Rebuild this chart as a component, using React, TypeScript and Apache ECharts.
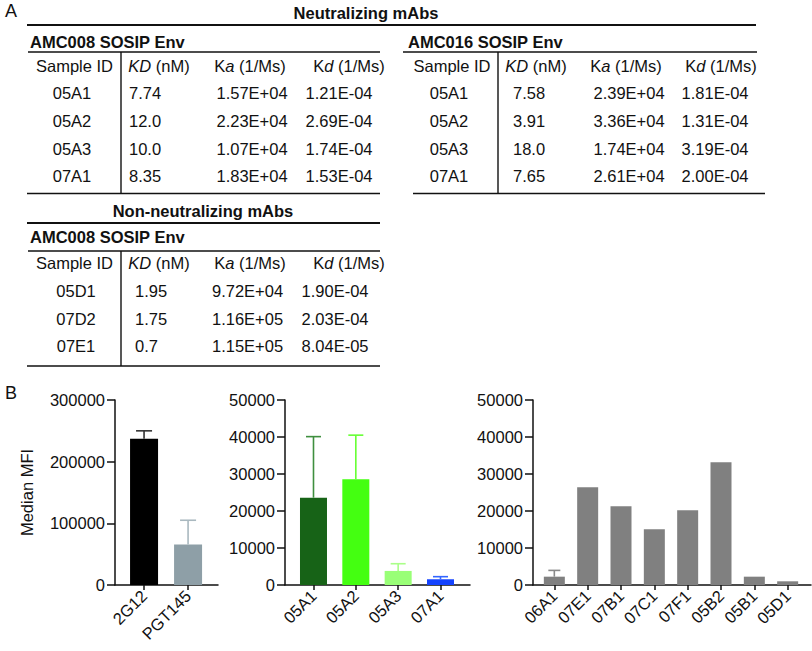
import React, { useEffect, useRef } from "react";
import * as echarts from "echarts";

const FONT = "'Liberation Sans', Arial, Helvetica, sans-serif";
const FS = 16.5;

// ---------- Table data (panel A) ----------
const tableHeaders = ["Sample ID", "{i|KD} (nM)", "K{i|a} (1/Ms)", "K{i|d} (1/Ms)"];

const amc008Samples = ["05A1", "05A2", "05A3", "07A1"];
const amc008KD = ["7.74", "12.0", "10.0", "8.35"];
const amc008Ka = ["1.57E+04", "2.23E+04", "1.07E+04", "1.83E+04"];
const amc008Kd = ["1.21E-04", "2.69E-04", "1.74E-04", "1.53E-04"];

const amc016Samples = ["05A1", "05A2", "05A3", "07A1"];
const amc016KD = ["7.58", "3.91", "18.0", "7.65"];
const amc016Ka = ["2.39E+04", "3.36E+04", "1.74E+04", "2.61E+04"];
const amc016Kd = ["1.81E-04", "1.31E-04", "3.19E-04", "2.00E-04"];

const nonNeutSamples = ["05D1", "07D2", "07E1"];
const nonNeutKD = ["1.95", "1.75", "0.7"];
const nonNeutKa = ["9.72E+04", "1.16E+05", "1.15E+05"];
const nonNeutKd = ["1.90E-04", "2.03E-04", "8.04E-05"];

// ---------- Bar chart data (panel B) ----------
const p1Cats = ["2G12", "PGT145"];
const p1Values = [237000, 65500];
const p1Sd = [13000, 39500];
const p1Colors = ["#000000", "#8e9fa7"];
const p1ErrColors = ["#333333", "#a9b8bf"];
const p1Ticks = [0, 100000, 200000, 300000];

const p2Cats = ["05A1", "05A2", "05A3", "07A1"];
const p2Values = [23600, 28600, 3800, 1550];
const p2Sd = [16500, 11900, 1950, 700];
const p2Colors = ["#176317", "#44ff11", "#99ff77", "#1443ff"];
const p2ErrColors = ["#3f8f3f", "#66ff33", "#aaff88", "#3366ff"];
const p2Ticks = [0, 10000, 20000, 30000, 40000, 50000];

const p3Cats = ["06A1", "07E1", "07B1", "07C1", "07F1", "05B2", "05B1", "05D1"];
const p3Values = [2250, 26400, 21300, 15050, 20200, 33150, 2250, 1000];
const p3Sd = [1700, 0, 0, 0, 0, 0, 0, 0];
const p3Colors = ["#808080", "#808080", "#808080", "#808080", "#808080", "#808080", "#808080", "#808080"];
const p3ErrColors = ["#8a8a8a", "#8a8a8a", "#8a8a8a", "#8a8a8a", "#8a8a8a", "#8a8a8a", "#8a8a8a", "#8a8a8a"];
const p3Ticks = [0, 10000, 20000, 30000, 40000, 50000];

// ---------- helpers ----------
const INK = "#111111";
const line = (x1: number, y1: number, x2: number, y2: number, w = 1.4) => ({
  type: "line",
  silent: true,
  shape: { x1, y1, x2, y2 },
  style: { stroke: INK, lineWidth: w },
});

const richStyles = {
  i: { fontStyle: "italic", fontSize: FS, fontFamily: FONT, fill: INK },
};

const txt = (
  text: string,
  x: number,
  y: number,
  align: string = "center",
  bold = false,
  size = FS
) => ({
  type: "text",
  silent: true,
  x,
  y,
  style: {
    text,
    fill: INK,
    fontSize: size,
    fontFamily: FONT,
    fontWeight: bold ? "bold" : "normal",
    align,
    textAlign: align,
    verticalAlign: "middle",
    textVerticalAlign: "middle",
    rich: richStyles,
  },
});

type TableLayout = {
  left: number;
  right: number;
  titleX: number;
  titleY: number;
  topLine: number;
  headerY: number;
  rowYs: number[];
  bottomLine: number;
  bottomLeft: number;
  bottomRight: number;
  vX: number;
  headerX: number[];
  sampleX: number;
  kdLeft: number;
  kaX: number;
  kdX: number;
};

function buildTable(
  title: string,
  samples: string[],
  kD: string[],
  ka: string[],
  kd: string[],
  L: TableLayout
) {
  const els: any[] = [];
  els.push(txt(title, L.titleX, L.titleY, "left", true));
  els.push(line(L.left, L.topLine, L.right, L.topLine));
  tableHeaders.forEach((h, i) => els.push(txt(h, L.headerX[i], L.headerY, "center")));
  samples.forEach((s, r) => {
    const y = L.rowYs[r];
    els.push(txt(s, L.sampleX, y, "center"));
    els.push(txt(kD[r], L.kdLeft, y, "left"));
    els.push(txt(ka[r], L.kaX, y, "center"));
    els.push(txt(kd[r], L.kdX, y, "center"));
  });
  els.push(line(L.vX, L.topLine, L.vX, L.bottomLine));
  els.push(line(L.bottomLeft, L.bottomLine, L.bottomRight, L.bottomLine));
  return els;
}

function errSeries(
  idx: number,
  values: number[],
  sd: number[],
  colors: string[],
  cap: number
) {
  const data: number[][] = [];
  const cols: string[] = [];
  values.forEach((v, i) => {
    if (sd[i] > 0) {
      data.push([i, v, v + sd[i]]);
      cols.push(colors[i]);
    }
  });
  return {
    type: "custom",
    xAxisIndex: idx,
    yAxisIndex: idx,
    silent: true,
    z: 3,
    data,
    encode: { x: 0, y: [1, 2] },
    renderItem: (params: any, api: any) => {
      const i = api.value(0);
      const p0 = api.coord([i, api.value(1)]);
      const p1 = api.coord([i, api.value(2)]);
      const c = cols[params.dataIndex];
      return {
        type: "group",
        children: [
          {
            type: "line",
            shape: { x1: p0[0], y1: p0[1], x2: p1[0], y2: p1[1] },
            style: { stroke: c, lineWidth: 1.6 },
          },
          {
            type: "line",
            shape: { x1: p1[0] - cap / 2, y1: p1[1], x2: p1[0] + cap / 2, y2: p1[1] },
            style: { stroke: c, lineWidth: 1.6 },
          },
        ],
      };
    },
  };
}

function barSeries(idx: number, values: number[], colors: string[], width: number) {
  return {
    type: "bar",
    xAxisIndex: idx,
    yAxisIndex: idx,
    barWidth: width,
    silent: true,
    z: 2,
    data: values.map((v, i) => ({
      value: [i, v],
      itemStyle: { color: colors[i] },
    })),
  };
}

function xAxisFor(idx: number, cats: string[], min: number, max: number) {
  const idxs = cats.map((_, i) => i);
  return {
    gridIndex: idx,
    type: "value",
    min,
    max,
    axisLine: { show: true, onZero: false, lineStyle: { color: INK, width: 1.5 } },
    axisTick: { show: true, length: 5, customValues: idxs, lineStyle: { color: INK, width: 1.5 } },
    axisLabel: {
      customValues: idxs,
      rotate: 45,
      margin: 8,
      fontSize: FS,
      fontFamily: FONT,
      color: INK,
      formatter: (v: number) => cats[Math.round(v)] ?? "",
    },
    splitLine: { show: false },
  };
}

function yAxisFor(idx: number, ticks: number[], name?: string) {
  return {
    gridIndex: idx,
    type: "value",
    min: ticks[0],
    max: ticks[ticks.length - 1],
    interval: ticks[1] - ticks[0],
    name: name ?? "",
    nameLocation: "middle",
    nameGap: 80,
    nameTextStyle: { fontSize: FS, fontFamily: FONT, color: INK },
    axisLine: { show: true, onZero: false, lineStyle: { color: INK, width: 1.5 } },
    axisTick: { show: true, length: 8, lineStyle: { color: INK, width: 1.5 } },
    axisLabel: {
      margin: 10,
      fontSize: FS,
      fontFamily: FONT,
      color: INK,
      formatter: (v: number) => String(v),
    },
    splitLine: { show: false },
  };
}

export default function App() {
  const ref = useRef<HTMLDivElement>(null);

  useEffect(() => {
    if (!ref.current) return;
    const chart = echarts.init(ref.current, undefined, { renderer: "svg" });

    const graphics: any[] = [];
    graphics.push(txt("A", 5, 11, "left", false, 18));
    graphics.push(txt("B", 5, 393, "left", false, 18));
    graphics.push(txt("Neutralizing mAbs", 366, 13, "center", true));
    graphics.push(line(27, 25, 756, 25, 2));

    graphics.push(
      ...buildTable("AMC008 SOSIP Env", amc008Samples, amc008KD, amc008Ka, amc008Kd, {
        left: 28,
        right: 380,
        titleX: 30,
        titleY: 42,
        topLine: 52,
        headerY: 66,
        rowYs: [92.5, 121, 149, 176],
        bottomLine: 193.5,
        bottomLeft: 27,
        bottomRight: 380,
        vX: 121,
        headerX: [74.5, 159, 250, 349],
        sampleX: 72,
        kdLeft: 129,
        kaX: 252,
        kdX: 339,
      })
    );

    graphics.push(
      ...buildTable("AMC016 SOSIP Env", amc016Samples, amc016KD, amc016Ka, amc016Kd, {
        left: 403,
        right: 757,
        titleX: 408,
        titleY: 42,
        topLine: 52,
        headerY: 66,
        rowYs: [92.5, 121, 149, 176],
        bottomLine: 193.5,
        bottomLeft: 413,
        bottomRight: 765,
        vX: 498,
        headerX: [452, 536, 626, 721],
        sampleX: 449,
        kdLeft: 513,
        kaX: 629,
        kdX: 715,
      })
    );

    graphics.push(txt("Non-neutralizing mAbs", 203, 211, "center", true));
    graphics.push(line(27, 223, 380, 223, 2));
    graphics.push(
      ...buildTable("AMC008 SOSIP Env", nonNeutSamples, nonNeutKD, nonNeutKa, nonNeutKd, {
        left: 28,
        right: 380,
        titleX: 30,
        titleY: 237,
        topLine: 251,
        headerY: 263,
        rowYs: [291, 319, 346],
        bottomLine: 366,
        bottomLeft: 27,
        bottomRight: 380,
        vX: 121,
        headerX: [74.5, 159, 250, 349],
        sampleX: 76,
        kdLeft: 135,
        kaX: 247.5,
        kdX: 335,
      })
    );

    const option: any = {
      animation: false,
      backgroundColor: "#ffffff",
      textStyle: { fontFamily: FONT },
      grid: [
        { left: 115, top: 400, width: 103, height: 185 },
        { left: 285, top: 400, width: 185, height: 185 },
        { left: 533, top: 400, width: 278, height: 185 },
      ],
      xAxis: [
        xAxisFor(0, p1Cats, -0.66, 1.68),
        xAxisFor(1, p2Cats, -0.673, 3.697),
        xAxisFor(2, p3Cats, -0.64, 7.7),
      ],
      yAxis: [yAxisFor(0, p1Ticks, "Median MFI"), yAxisFor(1, p2Ticks), yAxisFor(2, p3Ticks)],
      series: [
        barSeries(0, p1Values, p1Colors, 28),
        errSeries(0, p1Values, p1Sd, p1ErrColors, 16),
        barSeries(1, p2Values, p2Colors, 27),
        errSeries(1, p2Values, p2Sd, p2ErrColors, 15),
        barSeries(2, p3Values, p3Colors, 21),
        errSeries(2, p3Values, p3Sd, p3ErrColors, 12),
      ],
      graphic: { elements: graphics },
    };

    chart.setOption(option);
    return () => chart.dispose();
  }, []);

  return (
    <div
      ref={ref}
      style={{ position: "fixed", left: 0, top: 0, width: 812, height: 651, background: "#fff" }}
    />
  );
}
